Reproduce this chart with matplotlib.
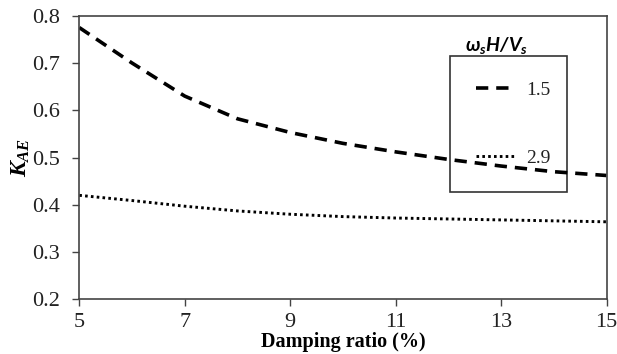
import matplotlib
matplotlib.use("Agg")
import matplotlib.pyplot as plt
import numpy as np

plt.rcParams['font.family'] = ['Liberation Serif', 'DejaVu Serif']
plt.rcParams['mathtext.fontset'] = 'custom'
plt.rcParams['mathtext.rm'] = 'Liberation Serif:bold'
plt.rcParams['mathtext.it'] = 'Liberation Serif:bold:italic'
plt.rcParams['mathtext.bf'] = 'Liberation Serif:bold'
plt.rcParams['mathtext.sf'] = 'Lato:bold:italic'

damping = np.array([5, 6, 7, 8, 9, 10, 11, 12, 13, 14, 15])
k_15 = np.array([0.775, 0.700, 0.630, 0.582, 0.553, 0.530, 0.512, 0.496, 0.482, 0.470, 0.462])
k_29 = np.array([0.420, 0.409, 0.397, 0.387, 0.380, 0.375, 0.372, 0.370, 0.368, 0.366, 0.364])

fig = plt.figure(figsize=(6.17, 3.54), dpi=100)
ax = fig.add_axes([0.1285, 0.1545, 0.8545, 0.801])

ax.plot(damping, k_15, color='black', lw=2.6, dashes=(3.4, 2.2), label='1.5')
ax.plot(damping, k_29, color='black', lw=2.1, dashes=(0.9, 1.1), label='2.9')

ax.set_xlim(5, 15)
ax.set_ylim(0.2, 0.8)
ax.set_xticks([5, 7, 9, 11, 13, 15])
ax.set_yticks([0.2, 0.3, 0.4, 0.5, 0.6, 0.7, 0.8])
ax.set_yticklabels(['0.2', '0.3', '0.4', '0.5', '0.6', '0.7', '0.8'])
ax.tick_params(direction='out', length=5, width=1, labelsize=16, pad=5, color='#444444',
               labelcolor='#222222')
ax.tick_params(axis='y', pad=9)
for s in ax.spines.values():
    s.set_color('#444444')
    s.set_linewidth(1.2)

ax.set_xlabel('Damping ratio (%)', fontsize=14.5, fontweight='bold', labelpad=0)
ax.set_ylabel(r'$K_{AE}$', fontsize=17, labelpad=0)

leg = ax.legend(loc='upper left', bbox_to_anchor=(0.704, 0.41, 0.221, 0.448),
                mode='expand', frameon=True, fancybox=False, facecolor='none',
                edgecolor='black', fontsize=14, handlelength=2.0, handletextpad=0.6,
                labelspacing=2.6, borderpad=1.3, borderaxespad=0)
leg.get_frame().set_linewidth(1.2)
for t in leg.get_texts():
    t.set_color('#222222')
ax.text(0.792, 0.895, r'$\mathsf{\omega_s H/V_s}$', transform=ax.transAxes,
        ha='center', va='center', fontsize=14)

fig.savefig('out.png', dpi=100)
